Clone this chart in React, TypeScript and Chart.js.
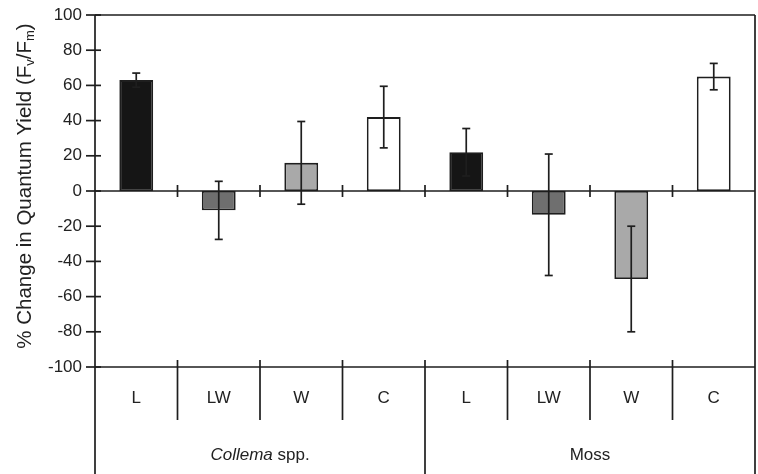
import React, { useEffect, useRef } from "react";
import { Chart, registerables } from "chart.js";

Chart.register(...registerables);

const categories = ["L", "LW", "W", "C", "L", "LW", "W", "C"];
const groupItalic = ["Collema", ""];
const groupPlain = [" spp.", "Moss"];
const values = [63, -11, 16, 42, 22, -13.5, -50, 65];
const errors = [4, 16.5, 23.5, 17.5, 13.5, 34.5, 30, 7.5];
const barColors = ["#151515", "#6f6f6f", "#a9a9a9", "#ffffff", "#151515", "#6f6f6f", "#a9a9a9", "#ffffff"];
const yMin = -100;
const yMax = 100;
const yStep = 20;

const FONT = "'Liberation Sans', Arial, Helvetica, sans-serif";
const INK = "#1e1e1e";

const decorPlugin = {
  id: "decor",
  afterDatasetsDraw(chart: any) {
    const ctx = chart.ctx as CanvasRenderingContext2D;
    const { left, right, top, bottom } = chart.chartArea;
    const xs = chart.scales.x;
    const ys = chart.scales.y;
    const H = chart.height;
    const n = categories.length;
    const w = (right - left) / n;
    const y0 = ys.getPixelForValue(0);

    ctx.save();
    ctx.strokeStyle = INK;
    ctx.lineWidth = 1.7;
    const line = (x1: number, y1: number, x2: number, y2: number) => {
      ctx.beginPath();
      ctx.moveTo(x1, y1);
      ctx.lineTo(x2, y2);
      ctx.stroke();
    };

    // error bars
    values.forEach((v, i) => {
      const x = xs.getPixelForValue(i);
      const yh = ys.getPixelForValue(v + errors[i]);
      const yl = ys.getPixelForValue(v - errors[i]);
      line(x, yh, x, yl);
      line(x - 4, yh, x + 4, yh);
      line(x - 4, yl, x + 4, yl);
    });

    // frame
    line(left, top, right, top);
    line(left, top, left, H);
    line(right, top, right, H);
    line(left, y0, right, y0);
    line(left, bottom, right, bottom);

    // y ticks
    ys.ticks.forEach((t: any) => {
      const y = ys.getPixelForValue(t.value);
      line(left - 9, y, left + 6, y);
    });

    // category boundary ticks on zero line & table lines
    for (let k = 1; k < n; k++) {
      const x = left + k * w;
      line(x, y0 - 6, x, y0 + 6);
      if (k === n / 2) {
        line(x, bottom - 7, x, H);
      } else {
        line(x, bottom - 7, x, bottom + 53);
      }
    }

    // category labels
    ctx.fillStyle = "#222";
    ctx.textAlign = "center";
    ctx.textBaseline = "middle";
    ctx.font = `17px ${FONT}`;
    categories.forEach((c, i) => {
      ctx.fillText(c, xs.getPixelForValue(i), bottom + 31);
    });

    // group labels
    const half = n / 2;
    groupItalic.forEach((it, g) => {
      const cx = left + (g * half + half / 2) * w;
      const pl = groupPlain[g];
      ctx.font = `italic 17px ${FONT}`;
      const wi = it ? ctx.measureText(it).width : 0;
      ctx.font = `17px ${FONT}`;
      const wp = ctx.measureText(pl).width;
      let x = cx - (wi + wp) / 2;
      ctx.textAlign = "left";
      if (it) {
        ctx.font = `italic 17px ${FONT}`;
        ctx.fillText(it, x, bottom + 88);
        x += wi;
      }
      ctx.font = `17px ${FONT}`;
      ctx.fillText(pl, x, bottom + 88);
    });

    // y title with subscripts
    const parts: [string, boolean][] = [
      ["% Change in Quantum Yield (F", false],
      ["v", true],
      ["/F", false],
      ["m", true],
      [")", false],
    ];
    const fs = 20.5;
    const sfs = 13;
    ctx.translate(31, 186);
    ctx.rotate(-Math.PI / 2);
    ctx.textAlign = "left";
    ctx.textBaseline = "alphabetic";
    let total = 0;
    parts.forEach(([s, sub]) => {
      ctx.font = `${sub ? sfs : fs}px ${FONT}`;
      total += ctx.measureText(s).width;
    });
    let px = -total / 2;
    parts.forEach(([s, sub]) => {
      ctx.font = `${sub ? sfs : fs}px ${FONT}`;
      ctx.fillText(s, px, sub ? 3 : 0);
      px += ctx.measureText(s).width;
    });
    ctx.restore();
  },
};

export default function App() {
  const ref = useRef<HTMLCanvasElement | null>(null);
  useEffect(() => {
    if (!ref.current) return;
    const chart = new Chart(ref.current, {
      type: "bar",
      data: {
        labels: categories,
        datasets: [
          {
            data: values,
            backgroundColor: barColors,
            borderColor: INK,
            borderWidth: 1.8,
            borderSkipped: false,
            categoryPercentage: 1,
            barPercentage: 0.41,
          },
        ],
      },
      options: {
        responsive: false,
        animation: false,
        layout: { padding: { top: 15, right: 3, bottom: 107, left: 0 } },
        plugins: { legend: { display: false }, tooltip: { enabled: false } },
        scales: {
          x: { type: "category", display: false, offset: true },
          y: {
            min: yMin,
            max: yMax,
            grid: { display: false, drawTicks: false },
            border: { display: false },
            ticks: {
              stepSize: yStep,
              padding: 13,
              color: "#222",
              font: { family: FONT, size: 17 },
            },
            afterFit: (scale: any) => {
              scale.width = 95;
              scale.paddingTop = 0;
              scale.paddingBottom = 0;
            },
          },
        },
      },
      plugins: [decorPlugin],
    });
    return () => chart.destroy();
  }, []);
  return (
    <div style={{ position: "fixed", left: 0, top: 0, width: 758, height: 474, background: "#fff" }}>
      <canvas ref={ref} width={758} height={474} style={{ width: 758, height: 474 }} />
    </div>
  );
}
